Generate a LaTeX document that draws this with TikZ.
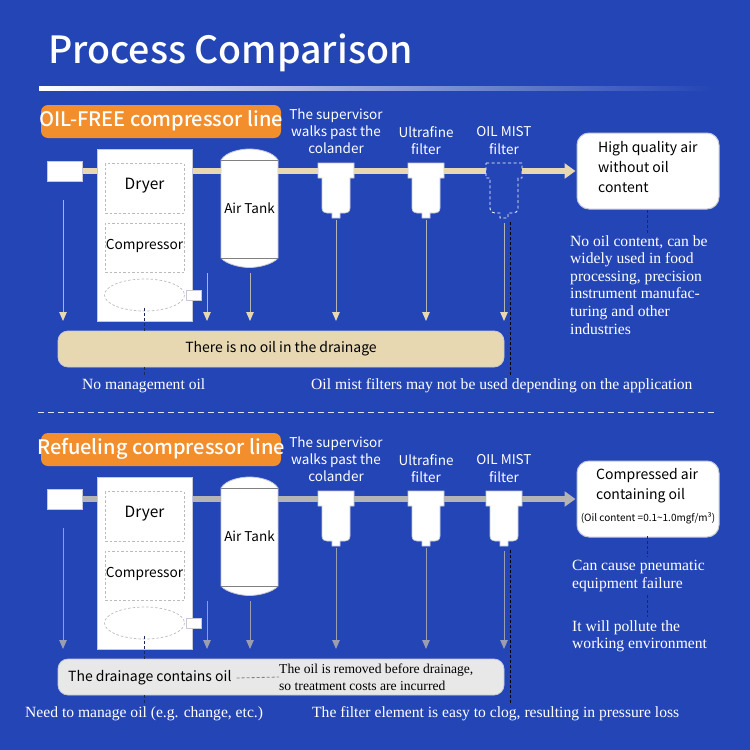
\documentclass[tikz,border=0pt]{standalone}
\usepackage{fontspec}
\usetikzlibrary{arrows.meta,calc}
\newfontfamily\snf{Noto Sans CJK SC}
\newfontfamily\snm{Noto Sans CJK SC Medium}
\newfontfamily\srf{Liberation Serif}
\definecolor{bgblue}{HTML}{2445B5}
\definecolor{tan}{HTML}{E8D8B2}
\definecolor{orng}{HTML}{F28E2B}
\definecolor{lgrey}{HTML}{E8E8E8}
\definecolor{pgrey}{HTML}{B4B4B4}
\definecolor{sgrey}{HTML}{9A9EAE}
\definecolor{edge}{HTML}{C4C8D8}
\definecolor{dashg}{HTML}{BBBBBB}
\definecolor{darkdash}{HTML}{1A2A5C}
\tikzset{
  x=1pt,y=-1pt,
  whitebox/.style={draw=edge,line width=1pt,fill=white,inner sep=0pt,rectangle},
  dashbox/.style={draw=dashg,dashed,line width=.7pt,inner sep=0pt,rectangle,dash pattern=on 2.5pt off 2pt},
  pill/.style={fill=orng,rounded corners=7pt,inner sep=0pt,minimum width=240pt,minimum height=33pt},
  drainbox/.style={draw=edge,line width=.8pt,rounded corners=10pt,inner sep=0pt,minimum width=446pt,minimum height=36pt},
  endbox/.style={draw=edge,line width=1pt,fill=white,rounded corners=12pt,inner sep=0pt,minimum width=142pt,minimum height=76pt},
  lbl/.style={text=white,font=\snf\fontsize{13.5}{17.2}\selectfont,align=center,inner sep=0pt},
  dark/.style={text=black,inner sep=0pt},
  note/.style={text=white,font=\srf\fontsize{15.6}{17.6}\selectfont,align=left,anchor=north west,inner sep=0pt},
  ddash/.style={draw=darkdash,line width=.9pt,dash pattern=on 3pt off 2pt},
  ghost/.style={inner sep=0pt,minimum size=0pt},
  fsolid/.style={fill=white,draw=edge,line width=.7pt},
  fdash/.style={draw=white,line width=.8pt,dash pattern=on 3pt off 2.5pt,fill=bgblue},
}
\newcommand{\ProcLine}[7]{% prefix, shift, pipe colour, head colour, shaft colour, drain colour, third filter style
\begin{scope}[yshift=-#2pt]
  % boxes
  \node[whitebox,minimum width=35pt,minimum height=20pt] (#1src) at (64.5,171) {};
  \node[whitebox,minimum width=95pt,minimum height=172pt] (#1comp) at (144.5,235) {};
  \node[dashbox,minimum width=79pt,minimum height=49.5pt] (#1dry) at (144.5,188.5) {};
  \node[dashbox,minimum width=79pt,minimum height=49.5pt] (#1cmp) at (144.5,248) {};
  \node[dark,font=\snf\fontsize{15.5}{18}\selectfont] at (144.5,186) {Dryer};
  \node[dark,font=\snf\fontsize{13.7}{16}\selectfont] at (144.5,246) {Compressor};
  \draw[dashg,line width=.7pt,dash pattern=on 2.5pt off 2pt] (144.5,295) ellipse [x radius=40,y radius=16];
  \node[whitebox,minimum width=15pt,minimum height=10pt,draw=edge] (#1tap) at (193.5,295) {};
  % tank
  \path[fill=white,draw=edge,line width=.8pt] (221,160) .. controls (226,152) and (240,149) .. (249.5,149) .. controls (259,149) and (273,152) .. (278,160) -- (278,258) .. controls (273,264) and (259,267.5) .. (249.5,267.5) .. controls (240,267.5) and (226,264) .. (221,258) -- cycle;
  \draw[gray,line width=.8pt] (221,160) -- (278,160) (221,258) -- (278,258);
  \node[ghost,minimum width=57pt,minimum height=118pt] (#1tank) at (249.5,209) {};
  \node[dark,font=\snf\fontsize{13.5}{16}\selectfont] at (249.5,208) {Air Tank};
  % filters
  \node[ghost,minimum width=36pt,minimum height=15pt] (#1fa) at (336,170.5) {};
  \node[ghost,minimum width=36pt,minimum height=15pt] (#1fb) at (426,170.5) {};
  \node[ghost,minimum width=36pt,minimum height=15pt] (#1fc) at (504,170.5) {};
  \foreach \fx/\fs in {336/fsolid,426/fsolid,504/#7}{
    \path[\fs] (\fx-18,163) -- (\fx+18,163) -- (\fx+18,178) -- (\fx+14,178) -- (\fx+14,208) .. controls (\fx+14,212) and (\fx+11,213) .. (\fx+9,213) -- (\fx+4,213) -- (\fx+4,218) -- (\fx-4,218) -- (\fx-4,213) -- (\fx-9,213) .. controls (\fx-11,213) and (\fx-14,212) .. (\fx-14,208) -- (\fx-14,178) -- (\fx-18,178) -- cycle;
  }
  % end box
  \node[endbox] (#1end) at (648,171) {};
  % pipes
  \draw[#3,line width=6pt] (#1src.east) -- (#1comp.west |- #1src.east);
  \draw[#3,line width=6pt] (#1comp.east |- #1src.east) -- (#1tank.west |- #1src.east);
  \draw[#3,line width=6pt] (#1tank.east |- #1src.east) -- (#1fa.west |- #1src.east);
  \draw[#3,line width=6pt] (#1fa.east |- #1src.east) -- (#1fb.west |- #1src.east);
  \draw[#3,line width=6pt] (#1fb.east |- #1src.east) -- (#1fc.west |- #1src.east);
  \draw[#3,line width=6pt,-{Triangle[length=11pt,width=15pt]},shorten >=1pt] (#1fc.east |- #1src.east) -- (#1end.west |- #1src.east);
  % drain
  \node[drainbox,fill=#6] (#1drain) at (281,349) {};
  % down arrows
  \foreach \nm/\ax/\ay in {a/63/200,b/207/273,c/250/273,d/336/220,e/426/220,f/504/223}{
    \coordinate (#1t\nm) at (\ax,\ay);
    \coordinate (#1b\nm) at (\ax,321);
    \draw[#5,line width=1pt,-{Triangle[length=9pt,width=7.5pt,fill=#4,#4]}] (#1t\nm) -- (#1b\nm);
  }
  % black guides
  \coordinate (#1ga) at (144,308);
  \coordinate (#1gd) at (144,376);
  \draw[ddash] (#1ga) -- (#1drain.north -| #1ga);
  \draw[ddash] (#1drain.south -| #1ga) -- (#1gd);
  \coordinate (#1gf) at (510.7,222);
  \coordinate (#1gg) at (510.7,375);
  \draw[black,line width=.9pt,dash pattern=on 3pt off 2pt] (#1gf) -- (#1gg);
  % labels
  \node[lbl] at (336,131) {The supervisor\\walks past the\\colander};
  \node[lbl] at (426,140.5) {Ultrafine\\filter};
  \node[lbl] at (504,140.5) {OIL MIST\\filter};
\end{scope}
}
\begin{document}
\begin{tikzpicture}
\useasboundingbox (0,0) rectangle (750,750);
\fill[bgblue] (0,0) rectangle (750,750);
% title
\node[text=white,font=\snm\fontsize{37.5}{44}\selectfont,anchor=west,inner sep=0pt] (title) at (48,53) {Process Comparison};
\shade[left color=white,right color=bgblue] (39,86) rectangle (712,90);
% sections
\ProcLine{a}{0}{tan}{tan}{pgrey}{tan}{fdash}
\ProcLine{b}{328}{pgrey}{sgrey}{sgrey}{lgrey}{fsolid}
% pills
\node[pill] (p1) at (161,121.5) {};
\node[text=white,font=\snm\fontsize{20}{24}\selectfont,inner sep=0pt] at (161,121) {OIL-FREE compressor line};
\node[pill] (p2) at (161,449.5) {};
\node[text=white,font=\snm\fontsize{20}{24}\selectfont,inner sep=0pt] at (161,449) {Refueling compressor line};
% divider
\coordinate (da) at (38,412);
\coordinate (db) at (715,412);
\draw[white,line width=.8pt,dash pattern=on 6pt off 4pt,opacity=.85] (da) -- (db);
% end box text 1
\node[dark,font=\snf\fontsize{14}{20}\selectfont,align=left,anchor=north west] at (598,141) {High quality air\\without oil\\content};
\node[note] at (570,235) {No oil content, can be\\widely used in food\\processing, precision\\instrument manufac-\\turing and other\\industries};
\coordinate (e1) at (647,210);
\coordinate (e2) at (647,233);
\draw[ddash] (e1) -- (e2);
% end box text 2
\node[dark,font=\snf\fontsize{14}{20.5}\selectfont,align=left,anchor=north west] at (596,468) {Compressed air\\containing oil};
\node[dark,font=\snf\fontsize{10}{12}\selectfont] at (648,518) {(Oil content =0.1\textasciitilde1.0mgf/m³)};
\node[note] at (572,560) {Can cause pneumatic\\equipment failure};
\node[note] at (572,620) {It will pollute the\\working environment};
\coordinate (e3) at (647.5,536);
\coordinate (e4) at (647.5,557);
\coordinate (e5) at (647.5,595);
\coordinate (e6) at (647.5,617);
\draw[ddash] (e3) -- (e4);
\draw[ddash] (e5) -- (e6);
% drain text
\node[dark,font=\snf\fontsize{14}{17}\selectfont] at (281,349) {There is no oil in the drainage};
\node[dark,font=\snf\fontsize{14}{17}\selectfont,anchor=west] (dt) at (68,678) {The drainage contains oil};
\node[dark,font=\srf\fontsize{13.6}{17}\selectfont,align=left,anchor=west] (ds) at (279,677) {The oil is removed before drainage,\\so treatment costs are incurred};
\draw[gray,line width=.8pt,dash pattern=on 3pt off 2pt] (dt.east)++(5,0) -- (ds.west);
% bottom notes
\node[note,anchor=west] at (82,386) {No management oil};
\node[note,anchor=west] at (311,386) {Oil mist filters may not be used depending on the application};
\node[note,anchor=west] at (25,714) {Need to manage oil (e.g. change, etc.)};
\node[note,anchor=west] at (312,714) {The filter element is easy to clog, resulting in pressure loss};
\end{tikzpicture}
\end{document}
